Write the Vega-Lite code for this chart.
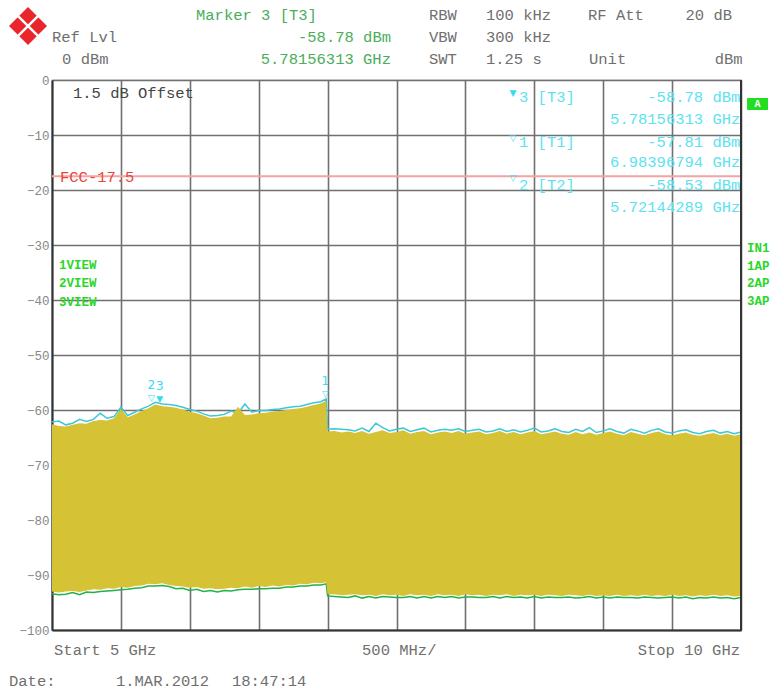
{
  "$schema": "https://vega.github.io/schema/vega-lite/v6.json",
  "width": 689,
  "height": 550,
  "autosize": {"type": "none"},
  "padding": {"left": 52, "top": 80, "right": 31, "bottom": 63},
  "background": "white",
  "config": {"view": {"stroke": "#888", "strokeWidth": 1.2}, "font": "Liberation Mono"},
  "datasets": {
    "trace": [
      {"f":5.00,"hi":-62.6,"c":-62.2,"lo":-93.0,"gb":-93.4},
      {"f":5.05,"hi":-62.9,"c":-62.0,"lo":-93.2,"gb":-93.6},
      {"f":5.10,"hi":-63.0,"c":-62.7,"lo":-93.0,"gb":-93.5},
      {"f":5.15,"hi":-62.7,"c":-62.4,"lo":-92.9,"gb":-93.2},
      {"f":5.20,"hi":-62.4,"c":-61.7,"lo":-93.1,"gb":-93.6},
      {"f":5.25,"hi":-62.5,"c":-62.1,"lo":-92.8,"gb":-93.1},
      {"f":5.30,"hi":-62.0,"c":-61.7,"lo":-92.6,"gb":-93.2},
      {"f":5.35,"hi":-61.8,"c":-60.6,"lo":-92.7,"gb":-93.0},
      {"f":5.40,"hi":-61.9,"c":-61.5,"lo":-92.4,"gb":-92.9},
      {"f":5.45,"hi":-61.5,"c":-61.2,"lo":-92.5,"gb":-92.8},
      {"f":5.50,"hi":-59.8,"c":-59.5,"lo":-92.2,"gb":-92.7},
      {"f":5.55,"hi":-61.3,"c":-61.0,"lo":-92.3,"gb":-92.6},
      {"f":5.60,"hi":-60.8,"c":-60.4,"lo":-92.0,"gb":-92.4},
      {"f":5.65,"hi":-60.2,"c":-59.8,"lo":-91.9,"gb":-92.3},
      {"f":5.70,"hi":-59.7,"c":-59.3,"lo":-91.6,"gb":-92.0},
      {"f":5.75,"hi":-59.0,"c":-58.6,"lo":-91.7,"gb":-92.0},
      {"f":5.80,"hi":-59.3,"c":-58.9,"lo":-91.5,"gb":-91.9},
      {"f":5.85,"hi":-59.4,"c":-59.0,"lo":-91.8,"gb":-92.1},
      {"f":5.90,"hi":-59.6,"c":-59.2,"lo":-92.0,"gb":-92.5},
      {"f":5.95,"hi":-59.9,"c":-59.5,"lo":-92.1,"gb":-92.4},
      {"f":6.00,"hi":-60.3,"c":-59.9,"lo":-92.3,"gb":-92.8},
      {"f":6.05,"hi":-60.6,"c":-60.2,"lo":-92.2,"gb":-92.6},
      {"f":6.10,"hi":-61.0,"c":-60.7,"lo":-92.5,"gb":-93.0},
      {"f":6.15,"hi":-61.5,"c":-61.1,"lo":-92.4,"gb":-92.8},
      {"f":6.20,"hi":-61.4,"c":-61.0,"lo":-92.6,"gb":-93.1},
      {"f":6.25,"hi":-61.2,"c":-60.8,"lo":-92.5,"gb":-92.8},
      {"f":6.30,"hi":-61.2,"c":-60.2,"lo":-92.3,"gb":-92.9},
      {"f":6.35,"hi":-59.4,"c":-60.6,"lo":-92.4,"gb":-92.7},
      {"f":6.40,"hi":-60.9,"c":-58.9,"lo":-92.1,"gb":-92.6},
      {"f":6.45,"hi":-60.8,"c":-60.4,"lo":-92.3,"gb":-92.6},
      {"f":6.50,"hi":-60.6,"c":-60.1,"lo":-92.0,"gb":-92.5},
      {"f":6.55,"hi":-60.5,"c":-60.1,"lo":-92.2,"gb":-92.5},
      {"f":6.60,"hi":-60.3,"c":-59.9,"lo":-91.9,"gb":-92.4},
      {"f":6.65,"hi":-60.2,"c":-59.8,"lo":-92.1,"gb":-92.4},
      {"f":6.70,"hi":-60.0,"c":-59.6,"lo":-91.8,"gb":-92.2},
      {"f":6.75,"hi":-59.8,"c":-59.4,"lo":-91.9,"gb":-92.2},
      {"f":6.80,"hi":-59.7,"c":-59.3,"lo":-91.6,"gb":-92.0},
      {"f":6.85,"hi":-59.4,"c":-59.0,"lo":-91.7,"gb":-92.0},
      {"f":6.90,"hi":-59.1,"c":-58.7,"lo":-91.4,"gb":-91.8},
      {"f":6.95,"hi":-58.8,"c":-58.5,"lo":-91.5,"gb":-91.8},
      {"f":6.99,"hi":-58.3,"c":-58.0,"lo":-91.3,"gb":-91.6},
      {"f":7.00,"hi":-63.9,"c":-63.5,"lo":-93.5,"gb":-93.8},
      {"f":7.05,"hi":-63.8,"c":-63.4,"lo":-93.5,"gb":-93.9},
      {"f":7.10,"hi":-64.1,"c":-63.5,"lo":-93.7,"gb":-94.0},
      {"f":7.15,"hi":-63.9,"c":-63.6,"lo":-93.6,"gb":-94.1},
      {"f":7.20,"hi":-64.2,"c":-63.8,"lo":-93.5,"gb":-93.8},
      {"f":7.25,"hi":-63.8,"c":-63.3,"lo":-93.7,"gb":-94.2},
      {"f":7.30,"hi":-64.3,"c":-63.9,"lo":-93.6,"gb":-93.9},
      {"f":7.35,"hi":-64.0,"c":-62.4,"lo":-93.8,"gb":-94.2},
      {"f":7.40,"hi":-63.7,"c":-63.2,"lo":-93.5,"gb":-93.9},
      {"f":7.45,"hi":-64.2,"c":-63.8,"lo":-93.7,"gb":-94.0},
      {"f":7.50,"hi":-64.0,"c":-63.5,"lo":-93.6,"gb":-94.1},
      {"f":7.55,"hi":-63.7,"c":-63.3,"lo":-93.8,"gb":-94.1},
      {"f":7.60,"hi":-64.3,"c":-63.9,"lo":-93.5,"gb":-93.9},
      {"f":7.65,"hi":-64.0,"c":-63.6,"lo":-93.7,"gb":-94.2},
      {"f":7.70,"hi":-63.8,"c":-63.3,"lo":-93.6,"gb":-93.9},
      {"f":7.75,"hi":-64.4,"c":-64.0,"lo":-93.8,"gb":-94.2},
      {"f":7.80,"hi":-64.1,"c":-63.7,"lo":-93.5,"gb":-93.9},
      {"f":7.85,"hi":-63.9,"c":-63.5,"lo":-93.7,"gb":-94.1},
      {"f":7.90,"hi":-64.2,"c":-63.7,"lo":-93.6,"gb":-93.9},
      {"f":7.95,"hi":-63.8,"c":-63.4,"lo":-93.8,"gb":-94.2},
      {"f":8.00,"hi":-64.3,"c":-63.9,"lo":-93.5,"gb":-94.0},
      {"f":8.05,"hi":-64.1,"c":-63.7,"lo":-93.7,"gb":-94.0},
      {"f":8.10,"hi":-63.9,"c":-63.5,"lo":-93.6,"gb":-94.1},
      {"f":8.15,"hi":-64.4,"c":-64.0,"lo":-93.8,"gb":-94.1},
      {"f":8.20,"hi":-64.2,"c":-63.8,"lo":-93.6,"gb":-93.9},
      {"f":8.25,"hi":-63.8,"c":-63.4,"lo":-93.7,"gb":-94.2},
      {"f":8.30,"hi":-64.3,"c":-63.9,"lo":-93.5,"gb":-93.9},
      {"f":8.35,"hi":-64.0,"c":-63.6,"lo":-93.8,"gb":-94.1},
      {"f":8.40,"hi":-64.4,"c":-64.0,"lo":-93.6,"gb":-94.0},
      {"f":8.45,"hi":-64.1,"c":-63.7,"lo":-93.7,"gb":-94.2},
      {"f":8.50,"hi":-63.8,"c":-63.3,"lo":-93.6,"gb":-93.9},
      {"f":8.55,"hi":-64.4,"c":-64.0,"lo":-93.8,"gb":-94.2},
      {"f":8.60,"hi":-64.2,"c":-63.8,"lo":-93.6,"gb":-94.0},
      {"f":8.65,"hi":-63.9,"c":-63.4,"lo":-93.7,"gb":-94.1},
      {"f":8.70,"hi":-64.3,"c":-63.9,"lo":-93.8,"gb":-94.1},
      {"f":8.75,"hi":-64.5,"c":-64.1,"lo":-93.6,"gb":-94.0},
      {"f":8.80,"hi":-64.0,"c":-63.5,"lo":-93.7,"gb":-94.2},
      {"f":8.85,"hi":-64.4,"c":-63.9,"lo":-93.8,"gb":-94.1},
      {"f":8.90,"hi":-64.1,"c":-63.2,"lo":-93.6,"gb":-93.9},
      {"f":8.95,"hi":-64.5,"c":-64.1,"lo":-93.8,"gb":-94.2},
      {"f":9.00,"hi":-64.2,"c":-63.8,"lo":-93.7,"gb":-94.0},
      {"f":9.05,"hi":-63.9,"c":-63.4,"lo":-93.8,"gb":-94.2},
      {"f":9.10,"hi":-64.3,"c":-63.9,"lo":-93.6,"gb":-94.0},
      {"f":9.15,"hi":-64.6,"c":-64.2,"lo":-93.8,"gb":-94.1},
      {"f":9.20,"hi":-64.0,"c":-63.5,"lo":-93.7,"gb":-94.1},
      {"f":9.25,"hi":-64.3,"c":-63.8,"lo":-93.8,"gb":-94.2},
      {"f":9.30,"hi":-64.6,"c":-64.2,"lo":-93.6,"gb":-94.0},
      {"f":9.35,"hi":-64.2,"c":-63.7,"lo":-93.8,"gb":-94.1},
      {"f":9.40,"hi":-63.9,"c":-63.4,"lo":-93.7,"gb":-94.2},
      {"f":9.45,"hi":-64.4,"c":-64.0,"lo":-93.8,"gb":-94.1},
      {"f":9.50,"hi":-64.6,"c":-64.2,"lo":-93.6,"gb":-94.0},
      {"f":9.55,"hi":-64.3,"c":-63.8,"lo":-93.8,"gb":-94.2},
      {"f":9.60,"hi":-64.1,"c":-63.6,"lo":-93.7,"gb":-94.0},
      {"f":9.65,"hi":-64.5,"c":-64.1,"lo":-93.9,"gb":-94.3},
      {"f":9.70,"hi":-64.7,"c":-64.3,"lo":-93.7,"gb":-94.1},
      {"f":9.75,"hi":-64.4,"c":-63.9,"lo":-93.8,"gb":-94.2},
      {"f":9.80,"hi":-64.2,"c":-63.7,"lo":-93.6,"gb":-94.0},
      {"f":9.85,"hi":-64.6,"c":-64.2,"lo":-93.8,"gb":-94.2},
      {"f":9.90,"hi":-64.3,"c":-63.9,"lo":-93.7,"gb":-94.1},
      {"f":9.95,"hi":-64.7,"c":-64.3,"lo":-93.9,"gb":-94.3},
      {"f":10.00,"hi":-64.4,"c":-64.0,"lo":-93.8,"gb":-94.1}
    ],
    "markers": [
      {"m":"1","f":6.984,"lvl":-57.81,"sym":"▽"},
      {"m":"2","f":5.7214,"lvl":-58.53,"sym":"▽"},
      {"m":"3","f":5.7816,"lvl":-58.78,"sym":"▼"}
    ],
    "limit": [{"db": -17.5}],
    "edge": [{"f": 10}],
    "txtL": [
      {"t":"Marker 3 [T3]","f":6.045,"db":11.82,"g":"green"},
      {"t":"Ref Lvl","f":5.0,"db":7.82,"g":"gray"},
      {"t":"0 dBm","f":5.073,"db":3.82,"g":"gray"},
      {"t":"RBW","f":7.736,"db":11.82,"g":"gray"},
      {"t":"100 kHz","f":8.149,"db":11.82,"g":"gray"},
      {"t":"RF Att","f":8.890,"db":11.82,"g":"gray"},
      {"t":"VBW","f":7.736,"db":7.82,"g":"gray"},
      {"t":"300 kHz","f":8.149,"db":7.82,"g":"gray"},
      {"t":"SWT","f":7.736,"db":3.82,"g":"gray"},
      {"t":"1.25 s","f":8.149,"db":3.82,"g":"gray"},
      {"t":"Unit","f":8.897,"db":3.82,"g":"gray"},
      {"t":"1.5 dB Offset","f":5.152,"db":-2.36,"g":"dark"},
      {"t":"FCC-17.5","f":5.058,"db":-17.6,"g":"red"},
      {"t":"3 [T3]","f":8.389,"db":-3.09,"g":"cyan"},
      {"t":"1 [T1]","f":8.389,"db":-11.27,"g":"cyan"},
      {"t":"2 [T2]","f":8.389,"db":-19.09,"g":"cyan"},
      {"t":"Start 5 GHz","f":5.015,"db":-103.6,"g":"gray"},
      {"t":"500 MHz/","f":7.25,"db":-103.6,"g":"gray"},
      {"t":"Date:","f":4.688,"db":-109.3,"g":"gray"},
      {"t":"1.MAR.2012","f":5.464,"db":-109.3,"g":"gray"},
      {"t":"18:47:14","f":6.306,"db":-109.3,"g":"gray"}
    ],
    "txtR": [
      {"t":"-58.78 dBm","f":7.46,"db":7.82,"g":"green"},
      {"t":"5.78156313 GHz","f":7.46,"db":3.82,"g":"green"},
      {"t":"20 dB","f":9.935,"db":11.82,"g":"gray"},
      {"t":"dBm","f":10.012,"db":3.82,"g":"gray"},
      {"t":"-58.78 dBm","f":9.995,"db":-3.09,"g":"cyan"},
      {"t":"5.78156313 GHz","f":9.995,"db":-7.09,"g":"cyan"},
      {"t":"-57.81 dBm","f":9.995,"db":-11.27,"g":"cyan"},
      {"t":"6.98396794 GHz","f":9.995,"db":-14.91,"g":"cyan"},
      {"t":"-58.53 dBm","f":9.995,"db":-19.09,"g":"cyan"},
      {"t":"5.72144289 GHz","f":9.995,"db":-23.09,"g":"cyan"},
      {"t":"Stop 10 GHz","f":9.993,"db":-103.6,"g":"gray"}
    ],
    "tri": [
      {"t":"▼","f":8.345,"db":-2.3},
      {"t":"▽","f":8.345,"db":-10.5},
      {"t":"▽","f":8.345,"db":-17.8}
    ],
    "side": [
      {"t":"1VIEW","f":5.051,"db":-33.6},
      {"t":"2VIEW","f":5.051,"db":-36.9},
      {"t":"3VIEW","f":5.051,"db":-40.3},
      {"t":"IN1","f":10.044,"db":-30.55},
      {"t":"1AP","f":10.044,"db":-33.82},
      {"t":"2AP","f":10.044,"db":-36.91},
      {"t":"3AP","f":10.044,"db":-40.18}
    ],
    "box": [{"f1":10.044,"f2":10.196,"d1":-3.27,"d2":-5.45,"fc":10.12,"dc":-4.36,"t":"A"}],
    "logo": [{"f":4.826,"db":9.82}]
  },
  "layer": [
    {
      "data": {"name": "trace"},
      "mark": {"type": "line", "color": "#3cc8d8", "strokeWidth": 1.5},
      "encoding": {
        "x": {"field": "f", "type": "quantitative",
              "scale": {"domain": [5, 10], "nice": false, "zero": false},
              "axis": {"values": [5,5.5,6,6.5,7,7.5,8,8.5,9,9.5,10], "grid": true, "gridColor": "#707070", "gridWidth": 1.6, "gridOpacity": 1,
                       "labels": false, "ticks": false, "domain": true, "domainColor": "#333", "domainWidth": 2, "title": null}},
        "y": {"field": "c", "type": "quantitative",
              "scale": {"domain": [-100, 0], "nice": false, "zero": false},
              "axis": {"values": [-100,-90,-80,-70,-60,-50,-40,-30,-20,-10,0], "grid": true, "gridColor": "#707070", "gridWidth": 1.6, "gridOpacity": 1,
                       "ticks": false, "labelPadding": 3, "labelColor": "#888", "labelFont": "Liberation Mono", "labelFontSize": 12.5,
                       "domain": true, "domainColor": "#333", "domainWidth": 2, "title": null}}
      }
    },
    {
      "data": {"name": "trace"},
      "mark": {"type": "line", "color": "#22b14c", "strokeWidth": 1.5},
      "encoding": {
        "x": {"field": "f", "type": "quantitative"},
        "y": {"field": "gb", "type": "quantitative"}
      }
    },
    {
      "data": {"name": "trace"},
      "mark": {"type": "area", "color": "#d5c235", "opacity": 1},
      "encoding": {
        "x": {"field": "f", "type": "quantitative"},
        "y": {"field": "hi", "type": "quantitative"},
        "y2": {"field": "lo"}
      }
    },
    {
      "data": {"name": "limit"},
      "mark": {"type": "rule", "color": "#f5a3a3", "strokeWidth": 2},
      "encoding": {"y": {"field": "db", "type": "quantitative"}}
    },
    {
      "data": {"name": "edge"},
      "mark": {"type": "rule", "color": "#333", "strokeWidth": 2},
      "encoding": {"x": {"field": "f", "type": "quantitative"}}
    },
    {
      "data": {"name": "markers"},
      "mark": {"type": "text", "font": "DejaVu Sans", "fontSize": 9, "color": "#35dcef", "dy": -4},
      "encoding": {
        "x": {"field": "f", "type": "quantitative"},
        "y": {"field": "lvl", "type": "quantitative"},
        "text": {"field": "sym"}
      }
    },
    {
      "data": {"name": "markers"},
      "mark": {"type": "text", "font": "DejaVu Sans", "fontSize": 12, "color": "#35dcef", "dy": -17},
      "encoding": {
        "x": {"field": "f", "type": "quantitative"},
        "y": {"field": "lvl", "type": "quantitative"},
        "text": {"field": "m"}
      }
    },
    {
      "data": {"name": "txtL"},
      "mark": {"type": "text", "align": "left", "baseline": "middle", "font": "Liberation Mono", "fontSize": 15.5},
      "encoding": {
        "x": {"field": "f", "type": "quantitative"},
        "y": {"field": "db", "type": "quantitative"},
        "text": {"field": "t"},
        "color": {"field": "g", "type": "nominal", "legend": null,
                  "scale": {"domain": ["gray","green","cyan","red","dark"], "range": ["#6f6f6f","#4aad5c","#5ce3ef","#e8453c","#444444"]}}
      }
    },
    {
      "data": {"name": "txtR"},
      "mark": {"type": "text", "align": "right", "baseline": "middle", "font": "Liberation Mono", "fontSize": 15.5},
      "encoding": {
        "x": {"field": "f", "type": "quantitative"},
        "y": {"field": "db", "type": "quantitative"},
        "text": {"field": "t"},
        "color": {"field": "g", "type": "nominal", "legend": null,
                  "scale": {"domain": ["gray","green","cyan","red","dark"], "range": ["#6f6f6f","#4aad5c","#5ce3ef","#e8453c","#444444"]}}
      }
    },
    {
      "data": {"name": "tri"},
      "mark": {"type": "text", "align": "center", "baseline": "middle", "font": "DejaVu Sans", "fontSize": 9, "color": "#35dcef"},
      "encoding": {
        "x": {"field": "f", "type": "quantitative"},
        "y": {"field": "db", "type": "quantitative"},
        "text": {"field": "t"}
      }
    },
    {
      "data": {"name": "side"},
      "mark": {"type": "text", "align": "left", "baseline": "middle", "font": "Liberation Mono", "fontWeight": "bold", "fontSize": 12.5, "color": "#2bd62b"},
      "encoding": {
        "x": {"field": "f", "type": "quantitative"},
        "y": {"field": "db", "type": "quantitative"},
        "text": {"field": "t"}
      }
    },
    {
      "data": {"name": "box"},
      "mark": {"type": "rect", "color": "#22dd22"},
      "encoding": {
        "x": {"field": "f1", "type": "quantitative"},
        "x2": {"field": "f2"},
        "y": {"field": "d1", "type": "quantitative"},
        "y2": {"field": "d2"}
      }
    },
    {
      "data": {"name": "box"},
      "mark": {"type": "text", "align": "center", "baseline": "middle", "font": "Liberation Mono", "fontWeight": "bold", "fontSize": 10, "color": "white"},
      "encoding": {
        "x": {"field": "fc", "type": "quantitative"},
        "y": {"field": "dc", "type": "quantitative"},
        "text": {"field": "t"}
      }
    },
    {
      "data": {"name": "logo"},
      "mark": {"type": "point", "shape": "diamond", "size": 1444, "filled": true, "color": "#e8262b", "opacity": 1},
      "encoding": {
        "x": {"field": "f", "type": "quantitative"},
        "y": {"field": "db", "type": "quantitative"}
      }
    },
    {
      "data": {"name": "logo"},
      "mark": {"type": "point", "shape": "M -0.72 0 L 0.72 0 M 0 -0.72 L 0 0.72", "angle": 45, "size": 1444, "filled": false, "stroke": "white", "strokeWidth": 2.5, "opacity": 1},
      "encoding": {
        "x": {"field": "f", "type": "quantitative"},
        "y": {"field": "db", "type": "quantitative"}
      }
    }
  ]
}
